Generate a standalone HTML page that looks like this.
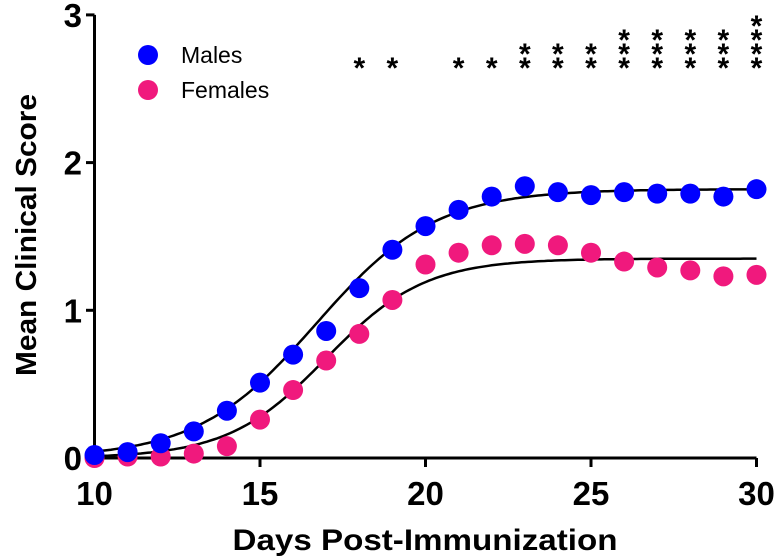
<!DOCTYPE html>
<html><head><meta charset="utf-8"><style>
body{margin:0;background:#fff}
svg{display:block;font-family:"Liberation Sans",Arial,sans-serif}
</style></head><body>
<svg id="chart" width="777" height="559">
<g id="axes"></g>
<g id="fits"></g>
<g id="points"></g>
<g id="stars"></g>
<g>
<circle cx="148" cy="55" r="10" fill="#0000ff"/>
<text x="181" y="63" font-size="23">Males</text>
<circle cx="148" cy="90" r="10" fill="#f0197d"/>
<text x="181" y="98" font-size="23">Females</text>
</g>
<text x="425" y="550" font-size="30" font-weight="bold" text-anchor="middle" textLength="385" lengthAdjust="spacingAndGlyphs">Days Post-Immunization</text>
<text transform="translate(36,235) rotate(-90)" font-size="29" font-weight="bold" text-anchor="middle" textLength="282" lengthAdjust="spacingAndGlyphs">Mean Clinical Score</text>
</svg>
<script>
const days=[10,11,12,13,14,15,16,17,18,19,20,21,22,23,24,25,26,27,28,29,30];
const males=[0.02,0.04,0.1,0.18,0.32,0.51,0.70,0.86,1.15,1.41,1.57,1.68,1.77,1.84,1.80,1.78,1.80,1.79,1.79,1.77,1.82];
const females=[0,0.01,0.01,0.03,0.08,0.26,0.46,0.66,0.84,1.07,1.31,1.39,1.44,1.45,1.44,1.39,1.33,1.29,1.27,1.23,1.24];
const maleFit=[1.82,16.7,1.8];
const femaleFit=[1.35,17.0,1.49];
const starDays=[18,19,21,22,23,24,25,26,27,28,29,30];
const starCounts=[1,1,1,1,2,2,2,3,3,3,3,4];
const xTicks=[10,15,20,25,30];
const yTicks=[0,1,2,3];
const NS='http://www.w3.org/2000/svg';
const X=d=>94.5+(d-10)*33.1;
const Y=v=>458-v*147.7;
function mk(p,tag,at){const e=document.createElementNS(NS,tag);for(const k in at)e.setAttribute(k,at[k]);p.appendChild(e);return e;}
const ax=document.getElementById('axes');
let l=mk(ax,'line',{x1:94.5,y1:Y(3),x2:94.5,y2:459.5,stroke:'#000','stroke-width':3});


l=mk(ax,'line',{x1:93,y1:458,x2:X(30),y2:458,stroke:'#000','stroke-width':3});


xTicks.forEach(t=>{
 const tk=mk(ax,'line',{x1:X(t),y1:458,x2:X(t),y2:467,stroke:'#000','stroke-width':3});
 
 
 const tx=mk(ax,'text',{x:X(t),y:505,'font-size':33,'font-weight':'bold','text-anchor':'middle'});
 tx.textContent=t;
 
 
});
yTicks.forEach(t=>{
 const tk=mk(ax,'line',{x1:86,y1:Y(t),x2:94.5,y2:Y(t),stroke:'#000','stroke-width':3});
 
 
 const tx=mk(ax,'text',{x:82,y:Y(t)+12,'font-size':33,'font-weight':'bold','text-anchor':'end'});
 tx.textContent=t;
 
 
});
const fits=document.getElementById('fits');
[[maleFit,'male-fit'],[femaleFit,'female-fit']].forEach(([f,n])=>{
 let d='';
 for(let x=10;x<=30.001;x+=0.1){const v=f[0]/(1+Math.exp((f[1]-x)/f[2]));d+=(d?'L':'M')+X(x).toFixed(1)+','+Y(v).toFixed(1);}
 const p=mk(fits,'path',{d:d,fill:'none',stroke:'#000','stroke-width':2.5});
 
 
});
const pts=document.getElementById('points');
[[females,'#f0197d','female-point'],[males,'#0000ff','male-point']].forEach(([s,c,n])=>{
 s.forEach((v,i)=>{
  const e=mk(pts,'circle',{cx:X(days[i]),cy:Y(v),r:10,fill:c});
  
  
 });
});
const st=document.getElementById('stars');
starDays.forEach((d,i)=>{
 for(let k=0;k<starCounts[i];k++){
  const t=mk(st,'text',{x:X(d),y:63-k*14+15,'font-size':30,'font-weight':'bold','text-anchor':'middle'});
  t.textContent='*';
  
  
 }
});
</script>
</body></html>
